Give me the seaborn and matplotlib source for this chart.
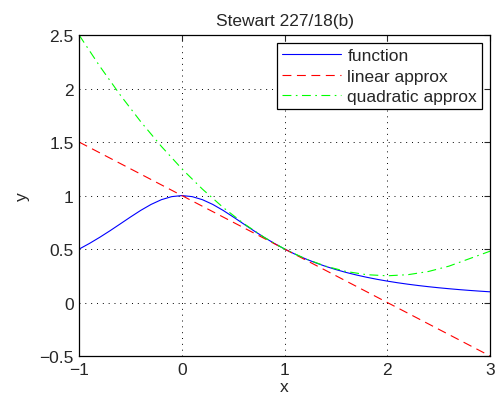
import matplotlib
matplotlib.use("Agg")
import matplotlib.pyplot as plt
import seaborn as sns

# values
x_fun = [-1.0, -0.9, -0.8, -0.7, -0.6, -0.5, -0.4, -0.3, -0.2, -0.1, 0.0,
         0.1, 0.2, 0.3, 0.4, 0.5, 0.6, 0.7, 0.8, 0.9, 1.0,
         1.1, 1.2, 1.3, 1.4, 1.5, 1.6, 1.7, 1.8, 1.9, 2.0,
         2.1, 2.2, 2.3, 2.4, 2.5, 2.6, 2.7, 2.8, 2.9, 3.0]
y_fun = [0.5, 0.5525, 0.6098, 0.6711, 0.7353, 0.8, 0.8621, 0.9174, 0.9615, 0.9901, 1.0,
         0.9901, 0.9615, 0.9174, 0.8621, 0.8, 0.7353, 0.6711, 0.6098, 0.5525, 0.5,
         0.4525, 0.4098, 0.3717, 0.3378, 0.3077, 0.2809, 0.2571, 0.2358, 0.2169, 0.2,
         0.1848, 0.1712, 0.1590, 0.1479, 0.1379, 0.1289, 0.1206, 0.1131, 0.1063, 0.1]

x_lin = [-1.0, 3.0]
y_lin = [1.5, -0.5]

x_quad = [-1.0, -0.8, -0.6, -0.4, -0.2, 0.0, 0.2, 0.4, 0.6, 0.8, 1.0,
          1.2, 1.4, 1.6, 1.8, 2.0, 2.2, 2.4, 2.6, 2.8, 3.0]
y_quad = [2.5, 2.21, 1.94, 1.69, 1.46, 1.25, 1.06, 0.89, 0.74, 0.61, 0.5,
          0.41, 0.34, 0.29, 0.26, 0.25, 0.26, 0.29, 0.34, 0.41, 0.48]

xticks = [-1, 0, 1, 2, 3]
yticks = [-0.5, 0, 0.5, 1, 1.5, 2, 2.5]

sns.set_style("white")
plt.rcParams['font.family'] = ['Liberation Sans', 'DejaVu Sans']
plt.rcParams['xtick.direction'] = 'in'
plt.rcParams['ytick.direction'] = 'in'

fig = plt.figure(figsize=(4.95, 4.02), dpi=100)
ax = fig.add_axes([0.160, 0.112, 0.830, 0.798])

sns.lineplot(x=x_fun, y=y_fun, ax=ax, color='blue', linewidth=0.8, label='function')
sns.lineplot(x=x_lin, y=y_lin, ax=ax, color='red', linewidth=0.8, linestyle=(0, (8, 5)),
             label='linear approx')
sns.lineplot(x=x_quad, y=y_quad, ax=ax, color=(0, 1, 0), linewidth=0.8,
             linestyle=(0, (8, 4, 1.5, 4)), label='quadratic approx')

ax.set_xlim(-1, 3)
ax.set_ylim(-0.5, 2.5)
ax.set_xticks(xticks)
ax.set_yticks(yticks)
ax.set_xticklabels(['\u22121', '0', '1', '2', '3'])
ax.set_yticklabels(['\u22120.5', '0', '0.5', '1', '1.5', '2', '2.5'])
ax.tick_params(labelsize=12.5, length=4, width=0.8, top=True, right=True, pad=4)
ax.grid(True, color='black', linestyle=(0, (1, 5)), linewidth=0.7)
for s in ax.spines.values():
    s.set_color('black')
    s.set_linewidth(0.9)

ax.set_xlabel('x', fontsize=12.5, labelpad=2)
ax.set_ylabel('y', fontsize=12.5, labelpad=7)
ax.set_title('Stewart 227/18(b)', fontsize=12.5, pad=7)

leg = ax.legend(loc='upper right', fontsize=12.5, fancybox=False, framealpha=1,
                edgecolor='black', borderaxespad=0.45, handlelength=3.4,
                handletextpad=0.35, labelspacing=0.3, borderpad=0.3)
leg.get_frame().set_linewidth(0.9)

fig.savefig('out.png', dpi=100)
